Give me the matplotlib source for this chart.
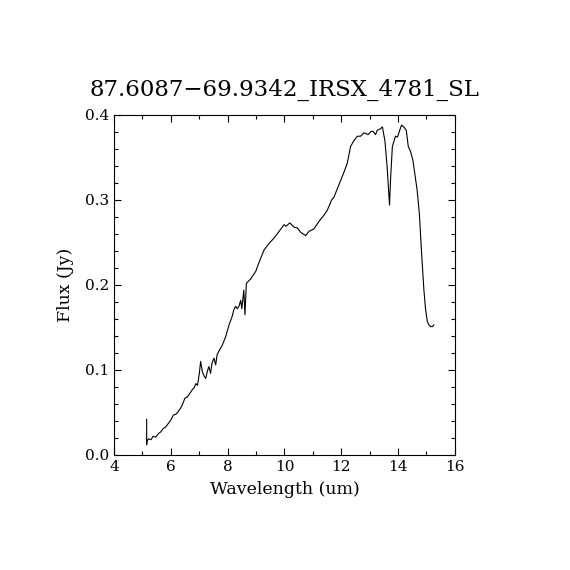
import matplotlib
matplotlib.use('Agg')
import matplotlib.pyplot as plt
from matplotlib.ticker import MultipleLocator

# spectrum (wavelength in um, flux in Jy)
wavelength = [5.15, 5.15, 5.16, 5.21, 5.30, 5.38, 5.47, 5.56, 5.64, 5.73, 5.82, 5.91,
              6.00, 6.09, 6.18, 6.26, 6.38, 6.50, 6.57, 6.64, 6.70, 6.76, 6.82, 6.88,
              6.94, 7.00, 7.05, 7.11, 7.17, 7.23, 7.29, 7.34, 7.40, 7.45, 7.52, 7.58,
              7.63, 7.69, 7.81, 7.93, 8.05, 8.16, 8.22, 8.28, 8.34, 8.40, 8.46, 8.50,
              8.57, 8.61, 8.66, 8.81, 8.99, 9.10, 9.28, 9.46, 9.63, 9.81, 9.99, 10.05,
              10.19, 10.34, 10.46, 10.57, 10.75, 10.86, 11.04, 11.22, 11.39, 11.51,
              11.66, 11.74, 11.92, 12.10, 12.21, 12.33, 12.45, 12.57, 12.68, 12.80,
              12.88, 12.95, 13.03, 13.11, 13.21, 13.27, 13.39, 13.45, 13.54, 13.62,
              13.68, 13.70, 13.74, 13.80, 13.91, 13.98, 14.12, 14.20, 14.29, 14.36,
              14.44, 14.52, 14.59, 14.67, 14.75, 14.83, 14.91, 14.97, 15.03, 15.09,
              15.15, 15.21, 15.26]
flux = [0.042, 0.012, 0.016, 0.019, 0.018, 0.022, 0.021, 0.025, 0.027, 0.031, 0.033, 0.037,
        0.041, 0.047, 0.048, 0.051, 0.057, 0.067, 0.068, 0.071, 0.074, 0.077, 0.079, 0.084,
        0.082, 0.095, 0.110, 0.098, 0.093, 0.090, 0.099, 0.104, 0.096, 0.108, 0.114, 0.106,
        0.118, 0.122, 0.129, 0.139, 0.153, 0.163, 0.171, 0.175, 0.172, 0.175, 0.182, 0.172,
        0.194, 0.165, 0.202, 0.207, 0.216, 0.226, 0.241, 0.249, 0.255, 0.263, 0.271, 0.269,
        0.273, 0.268, 0.267, 0.262, 0.258, 0.263, 0.266, 0.275, 0.282, 0.288,
        0.300, 0.303, 0.318, 0.333, 0.343, 0.363, 0.370, 0.375, 0.375, 0.379,
        0.378, 0.377, 0.380, 0.381, 0.377, 0.382, 0.384, 0.386, 0.369, 0.337,
        0.304, 0.294, 0.327, 0.363, 0.375, 0.374, 0.388, 0.386, 0.382, 0.363,
        0.357, 0.347, 0.331, 0.312, 0.284, 0.237, 0.194, 0.171, 0.157, 0.153,
        0.151, 0.151, 0.153]

title = '87.6087\u221269.9342_IRSX_4781_SL'

plt.rcParams['font.family'] = ['DejaVu Serif']

fig = plt.figure(figsize=(5.7, 5.7), dpi=100)
ax = fig.add_axes([0.2, 0.2018, 0.598, 0.5965])

ax.plot(wavelength, flux, color='black', linewidth=0.8)

ax.set_xlim(4, 16)
ax.set_ylim(0, 0.4)
ax.xaxis.set_major_locator(MultipleLocator(2))
ax.xaxis.set_minor_locator(MultipleLocator(1))
ax.yaxis.set_major_locator(MultipleLocator(0.1))
ax.yaxis.set_minor_locator(MultipleLocator(0.02))
ax.yaxis.set_major_formatter(plt.FormatStrFormatter('%.1f'))
ax.tick_params(which='both', direction='in', top=True, right=True, width=0.8, labelsize=11)
ax.tick_params(which='major', length=5)
ax.tick_params(which='minor', length=3)
for s in ax.spines.values():
    s.set_linewidth(0.8)

ax.set_xlabel('Wavelength (um)', fontsize=12.5, labelpad=5)
ax.set_ylabel('Flux (Jy)', fontsize=12.5, labelpad=8)
ax.set_title(title, fontsize=16.5, pad=14)

fig.savefig('out.png', dpi=100, facecolor='white')
